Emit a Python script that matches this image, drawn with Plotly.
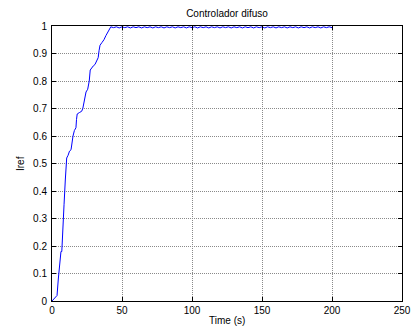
import plotly.graph_objects as go

# Rising part of the response
t_rise = [0, 1, 2, 3, 3.6, 4.5, 5.5, 6.4, 7, 7.6, 8.1, 8.6, 9.5, 10.5, 11.5, 12.5, 13.6,
          14.3, 15, 16, 17.1, 17.5, 18, 19.5, 21.2, 22, 22.4, 23.3, 24.3, 25.5, 26.6,
          27.3, 28.4, 29.5, 30.7, 31.8, 33, 33.6, 34.3, 35.7, 37.1, 38.5, 40, 41, 42]
i_rise = [0, 0.005, 0.01, 0.015, 0.02, 0.08, 0.15, 0.18, 0.18, 0.27, 0.35, 0.35, 0.44,
          0.52, 0.53, 0.545, 0.55, 0.58, 0.60, 0.62, 0.63, 0.66, 0.68, 0.685, 0.69, 0.70,
          0.71, 0.73, 0.76, 0.77, 0.80, 0.84, 0.85, 0.855, 0.86, 0.87, 0.885, 0.91, 0.93,
          0.94, 0.95, 0.965, 0.98, 0.99, 0.997]

# Flat (steady-state) part with small ripple
t_flat = [44, 46, 48, 50, 52, 54, 56, 58, 60, 62, 64, 66, 68, 70, 72, 74, 76, 78, 80,
          82, 84, 86, 88, 90, 92, 94, 96, 98, 100, 102, 104, 106, 108, 110, 112, 114,
          116, 118, 120, 122, 124, 126, 128, 130, 132, 134, 136, 138, 140, 142, 144,
          146, 148, 150, 152, 154, 156, 158, 160, 162, 164, 166, 168, 170, 172, 174,
          176, 178, 180, 182, 184, 186, 188, 190, 192, 194, 196, 198, 200]
i_flat = [0.994, 0.997, 0.993, 0.997, 0.994, 0.997, 0.993, 0.997, 0.994, 0.997, 0.993,
          0.997, 0.994, 0.997, 0.993, 0.997, 0.994, 0.997, 0.993, 0.997, 0.994, 0.997,
          0.993, 0.997, 0.994, 0.997, 0.993, 0.997, 0.994, 0.997, 0.993, 0.997, 0.994,
          0.997, 0.993, 0.997, 0.994, 0.997, 0.993, 0.997, 0.994, 0.997, 0.993, 0.997,
          0.994, 0.997, 0.993, 0.997, 0.994, 0.997, 0.993, 0.997, 0.994, 0.997, 0.993,
          0.997, 0.994, 0.997, 0.993, 0.997, 0.994, 0.997, 0.993, 0.997, 0.994, 0.997,
          0.993, 0.997, 0.994, 0.997, 0.993, 0.997, 0.994, 0.997, 0.993, 0.997, 0.994,
          0.997, 0.994]

time_s = t_rise + t_flat
iref = i_rise + i_flat

x_ticks = [0, 50, 100, 150, 200, 250]
y_ticks = [0, 0.1, 0.2, 0.3, 0.4, 0.5, 0.6, 0.7, 0.8, 0.9, 1]
y_tick_labels = ["0", "0.1", "0.2", "0.3", "0.4", "0.5", "0.6", "0.7", "0.8", "0.9", "1"]

fig = go.Figure()
fig.add_trace(go.Scatter(x=time_s, y=iref, mode="lines",
                         line=dict(color="#0000ff", width=1), showlegend=False))

font = dict(family="Liberation Sans, Arial, sans-serif", size=10, color="#000000")

axis_common = dict(
    showline=True, linecolor="#000000", linewidth=1, mirror="ticks",
    ticks="inside", ticklen=4, tickcolor="#000000", tickwidth=1,
    showgrid=True, gridcolor="#8a8a8a", griddash="1px,1px", gridwidth=1,
    zeroline=False, tickfont=font, automargin=False,
)

fig.update_layout(
    width=411, height=333,
    margin=dict(l=52, r=9, t=26, b=32),
    paper_bgcolor="#ffffff", plot_bgcolor="#ffffff",
    font=font,
    title=dict(text="Controlador difuso", x=0.5, xref="paper", xanchor="center",
               y=1, yref="paper", yanchor="bottom", pad=dict(b=9),
               font=dict(family="Liberation Sans, Arial, sans-serif", size=10, color="#000000")),
    xaxis=dict(range=[0, 250], tickvals=x_ticks, ticktext=[str(v) for v in x_ticks],
               ticklabelstandoff=0, **axis_common),
    yaxis=dict(range=[0, 1], tickvals=y_ticks, ticktext=y_tick_labels,
               ticklabelstandoff=2, **axis_common),
    annotations=[
        dict(text="Time (s)", x=0.5, xref="paper", y=-0.045, yref="paper",
             xanchor="center", yanchor="top", showarrow=False, font=font),
        dict(text="Iref", x=-0.09, xref="paper", y=0.5, yref="paper",
             xanchor="center", yanchor="middle", textangle=-90, showarrow=False, font=font),
    ],
)

fig.write_html("out.html", config={"displayModeBar": False},
               post_script="document.body.style.margin='0';document.body.style.overflow='hidden';")
